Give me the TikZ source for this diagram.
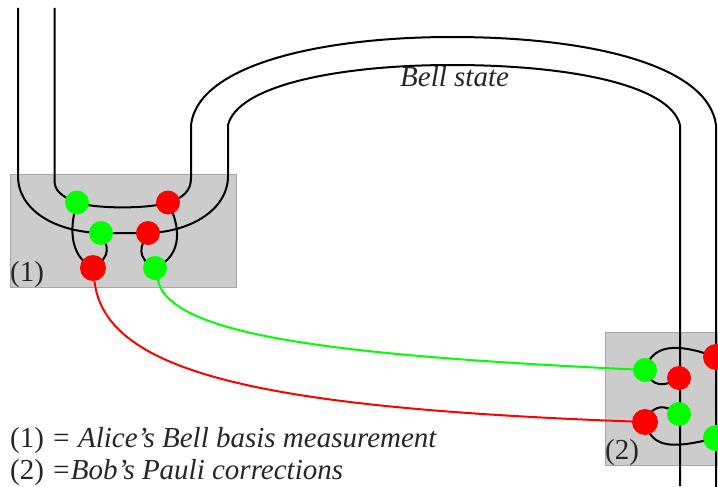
\documentclass[tikz,border=0pt]{standalone}
\usepackage{fontspec}
\setmainfont{Liberation Serif}
\usetikzlibrary{backgrounds}
\definecolor{boxfill}{HTML}{CCCCCC}
\definecolor{boxedge}{HTML}{A6A6A6}
\definecolor{zx}{HTML}{00FF00}
\definecolor{zr}{HTML}{FF0000}

\begin{document}
\begin{tikzpicture}[x=1pt, y=-1pt, font=\fontsize{29}{33}\selectfont,
    gdot/.style={circle, fill=zx, inner sep=0pt, minimum size=24pt},
    rdot/.style={circle, fill=zr, inner sep=0pt, minimum size=24pt},
    bigdot/.style={circle, fill=zr, inner sep=0pt, minimum size=26pt},
    wire/.style={draw=black, line width=2pt},
    gate/.style={draw=boxedge, line width=1.3pt, fill=boxfill, inner sep=0pt, anchor=north west},
    lbl/.style={anchor=base west, inner sep=0pt, text=black!85}]
  \useasboundingbox (0,0) rectangle (718,487);

  % spiders in Alice's box
  \node[gdot] (ga) at (77,202.5) {};
  \node[rdot] (ra) at (168,202.5) {};
  \node[gdot] (gb) at (101,233) {};
  \node[rdot] (rb) at (148,233) {};
  \node[bigdot] (rc) at (93,268) {};
  \node[gdot] (gc) at (155,268) {};

  % spiders in Bob's box
  \node[gdot] (gx) at (645,370) {};
  \node[rdot] (rx) at (679,378) {};
  \node[gdot] (gz) at (679,414) {};
  \node[bigdot] (rz) at (645,422) {};
  \node[bigdot] (rr) at (716,357) {};
  \node[gdot, minimum size=26pt] (gr) at (716,438) {};

  % free ends of the wires
  \coordinate (tl) at (18,8);
  \coordinate (tm) at (54.5,8);
  \coordinate (bm) at (680,486);
  \coordinate (br) at (716,487);

  \begin{scope}[on background layer]
    \node[gate, minimum width=226pt, minimum height=113pt] (alice) at (10,174) {};
    \node[gate, minimum width=120pt, minimum height=133pt] (bob) at (605,332) {};

    % the two big wires
    \draw[wire] (tm) -- (54.5,180) .. controls (54.5,190) and (60,196) .. (ga.center)
      .. controls (95,209) and (150,209) .. (ra.center)
      .. controls (184,198) and (191,190) .. (191,178) -- (191,125)
      .. controls (198,65) and (320,37) .. (452,37)
      .. controls (590,37) and (708,65) .. (716,125) -- (br);
    \draw[wire] (tl) -- (18,176) .. controls (18,210) and (55,232) .. (gb.center)
      -- (rb.center) .. controls (190,232) and (228,210) .. (228,176) -- (228,125)
      .. controls (238,85) and (340,65) .. (452,65)
      .. controls (570,65) and (670,85) .. (680,125) -- (bm);

    % small loops, Alice
    \draw[wire] (ga.center) .. controls (70,225) and (68,255) .. (rc.center);
    \draw[wire] (gb.center) .. controls (108,246) and (112,256) .. (rc.center);
    \draw[wire] (ra.center) .. controls (180,225) and (184,255) .. (gc.center);
    \draw[wire] (rb.center) .. controls (140,246) and (136,258) .. (gc.center);

    % small loops, Bob
    \draw[wire] (gx.center) .. controls (652,345) and (675,342) .. (rr.center);
    \draw[wire] (gx.center) .. controls (652,388) and (665,387) .. (rx.center);
    \draw[wire] (rz.center) .. controls (652,404) and (665,404) .. (gz.center);
    \draw[wire] (rz.center) .. controls (652,450) and (675,448) .. (gr.center);
  \end{scope}

  % the classical wires
  \draw[draw=zr, line width=2pt] (rc) .. controls (105,375) and (270,408) .. (rz);
  \draw[draw=zx, line width=2pt] (gc) .. controls (170,335) and (330,355) .. (gx);

  \node[lbl] (one) at (10,281) {(1)};
  \node[lbl] (two) at (605,459) {(2)};
  \node[lbl] (bell) at (400,87) {\itshape Bell state};
  \node[lbl] (ali) at (10,447) {(1) \itshape = Alice’s Bell basis measurement};
  \node[lbl] (pau) at (10,479) {(2) \itshape =Bob’s Pauli corrections};
\end{tikzpicture}
\end{document}
